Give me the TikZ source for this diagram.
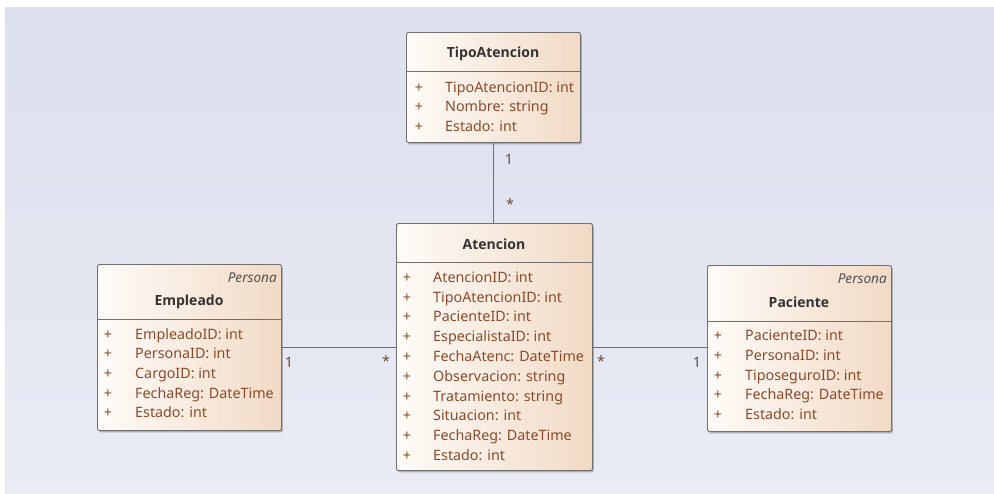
\documentclass[tikz,border=0pt]{standalone}
\usepackage{fontspec}
\setmainfont{Noto Sans}
\newfontfamily\hdrfont{Open Sans}
\usetikzlibrary{shadows}

\definecolor{bgtop}{HTML}{DCDFED}
\definecolor{bgbot}{HTML}{E9ECF4}
\definecolor{boxl}{HTML}{FEFBF8}
\definecolor{boxr}{HTML}{F2DAC5}
\definecolor{attrcol}{HTML}{8A4A2A}
\definecolor{edgecol}{HTML}{707070}
\definecolor{titlecol}{HTML}{333333}
\definecolor{multcol}{HTML}{6A4A36}

\tikzset{
  classbox/.style={draw=edgecol, line width=0.9pt, rounded corners=1.5pt,
    left color=boxl, right color=boxr, anchor=north west, inner sep=0pt,
    drop shadow={shadow xshift=1.5pt, shadow yshift=-2pt, opacity=0.25, fill=black}},
  divider/.style={draw=edgecol, line width=0.9pt},
  % fixed text box so every row sits on the same baseline offset
  txt/.style={inner sep=0pt, text height=11.5pt, text depth=0pt},
  hdr/.style={txt, font=\hdrfont\fontsize{14}{16}\selectfont\bfseries, text=titlecol},
  stereo/.style={txt, font=\fontsize{13.6}{16}\selectfont\itshape, text=titlecol!85, anchor=east},
  attr/.style={txt, font=\fontsize{14.3}{16}\selectfont, text=attrcol, anchor=west},
  plus/.style={txt, font=\fontsize{14.3}{16}\selectfont, text=attrcol},
  assoc/.style={draw=edgecol, line width=0.9pt},
  mult/.style={txt, font=\fontsize{14.3}{16}\selectfont, text=multcol},
}

\begin{document}
\begin{tikzpicture}[x=1pt, y=-1pt]
  % canvas
  \useasboundingbox (0,0) rectangle (994,493);
  \fill[white] (0,0) rectangle (994,493);
  \shade[top color=bgtop, bottom color=bgbot] (5,7) rectangle (994,493);

  % ---------- TipoAtencion ----------
  \node[classbox, minimum width=174pt, minimum height=110pt] (tipo) at (406,32) {};
  \draw[divider] (406,71) -- (580,71);
  \node[hdr] (tipoT) at (493,52) {TipoAtencion};
  \foreach \y/\t [count=\i] in {87/TipoAtencionID: int, 106/Nombre: string, 126/Estado: int} {
    \node[plus] (tipoP\i) at (419,\y) {+};
    \node[attr] (tipoA\i) at (445,\y) {\t};
  }

  % ---------- Atencion ----------
  \node[classbox, minimum width=196pt, minimum height=247pt] (aten) at (396,223) {};
  \draw[divider] (396,262) -- (592,262);
  \node[hdr] (atenT) at (494,244) {Atencion};
  \foreach \y/\t [count=\i] in {277/AtencionID: int, 297/TipoAtencionID: int,
      316/PacienteID: int, 336/EspecialistaID: int, 356/FechaAtenc: DateTime,
      376/Observacion: string, 396/Tratamiento: string, 415/Situacion: int,
      435/FechaReg: DateTime, 455/Estado: int} {
    \node[plus] (atenP\i) at (407,\y) {+};
    \node[attr] (atenA\i) at (433,\y) {\t};
  }

  % ---------- Empleado ----------
  \node[classbox, minimum width=184pt, minimum height=166pt] (emp) at (97,264) {};
  \draw[divider] (97,319) -- (281,319);
  \node[stereo] (empS) at (277,277) {Persona};
  \node[hdr] (empT) at (189,300) {Empleado};
  \foreach \y/\t [count=\i] in {334/EmpleadoID: int, 353/PersonaID: int,
      373/CargoID: int, 393/FechaReg: DateTime, 412/Estado: int} {
    \node[plus] (empP\i) at (108,\y) {+};
    \node[attr] (empA\i) at (135,\y) {\t};
  }

  % ---------- Paciente ----------
  \node[classbox, minimum width=184pt, minimum height=166pt] (pac) at (707,265) {};
  \draw[divider] (707,321) -- (891,321);
  \node[stereo] (pacS) at (887,278) {Persona};
  \node[hdr] (pacT) at (799,302) {Paciente};
  \foreach \y/\t [count=\i] in {335/PacienteID: int, 355/PersonaID: int,
      375/TiposeguroID: int, 394/FechaReg: DateTime, 414/Estado: int} {
    \node[plus] (pacP\i) at (718,\y) {+};
    \node[attr] (pacA\i) at (745,\y) {\t};
  }

  % ---------- associations ----------
  \draw[assoc] (tipo.south -| 493,0) -- (aten.north -| 493,0);
  \draw[assoc] (emp.east |- 0,347) -- (aten.west |- 0,347);
  \draw[assoc] (aten.east |- 0,347) -- (pac.west |- 0,347);

  % multiplicities
  \node[mult] (m1) at (509,159) {1};
  \node[mult] (m2) at (510,204) {*};
  \node[mult] (m3) at (289,362) {1};
  \node[mult] (m4) at (386,361) {*};
  \node[mult] (m5) at (601,361) {*};
  \node[mult] (m6) at (697,362) {1};
\end{tikzpicture}
\end{document}
